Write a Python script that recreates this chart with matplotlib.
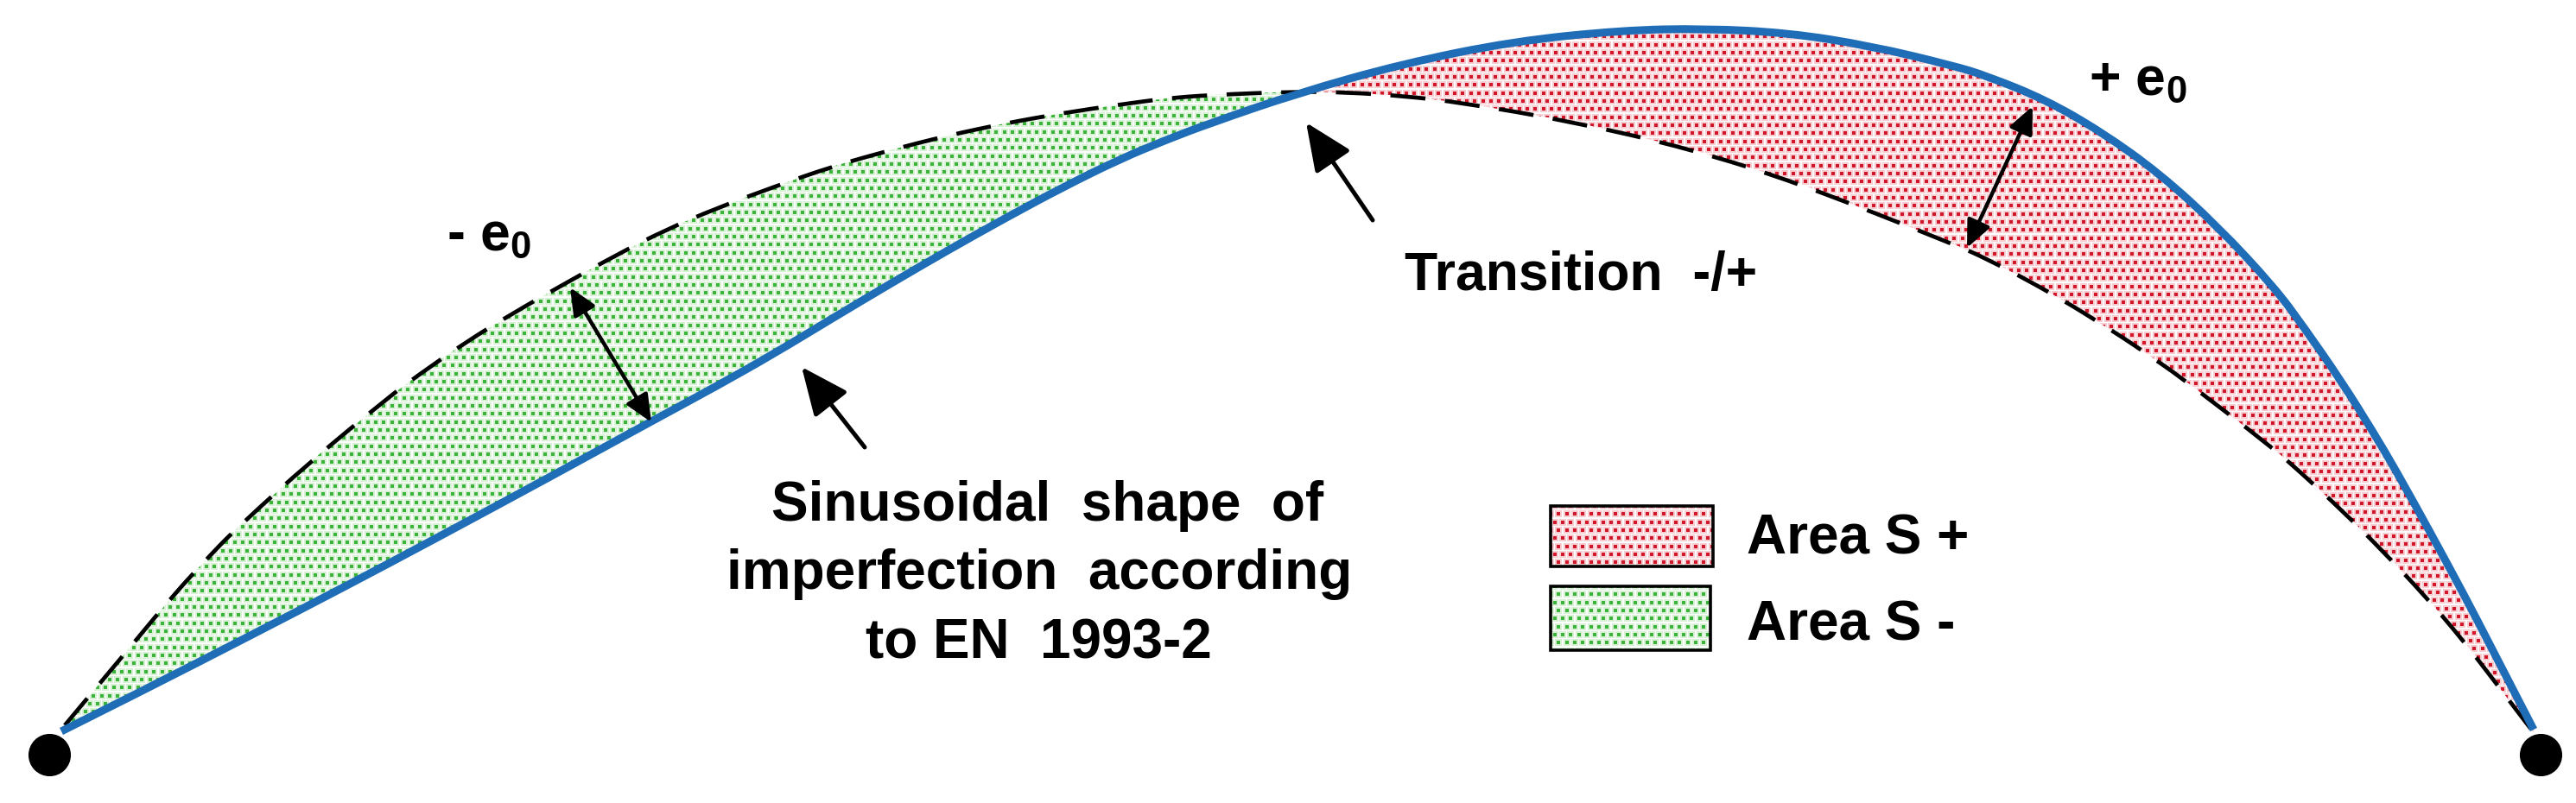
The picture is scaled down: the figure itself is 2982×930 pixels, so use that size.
import matplotlib
matplotlib.use("Agg")
import matplotlib.pyplot as plt
import numpy as np
from matplotlib.patches import FancyArrowPatch, PathPatch, Polygon, Rectangle
from matplotlib.path import Path

plt.rcParams["font.family"] = ["Liberation Sans", "DejaVu Sans"]
plt.rcParams["mathtext.fontset"] = "custom"
plt.rcParams["mathtext.rm"] = "Liberation Sans"
plt.rcParams["mathtext.bf"] = "Liberation Sans:bold"

# curves, in pixels of the original image
blue_x = [71, 167, 290, 400, 500, 641, 754, 830, 897, 963, 1030, 1097, 1163, 1230, 1297, 1350, 1400,
          1502, 1623, 1751, 1878, 1974, 2070, 2165, 2261, 2300, 2367, 2433, 2500, 2567, 2633, 2667,
          2710, 2747, 2773, 2813, 2853, 2883, 2933]
blue_y = [847, 799, 736, 679, 626, 550, 488, 447, 409, 369, 329, 290, 253, 217, 184, 162, 143,
          108, 74, 48, 35, 33, 38, 53, 76, 88, 115, 153, 201, 262, 333, 379,
          441, 500, 544, 616, 690, 748, 845]

dash_x = [75, 115, 157, 200, 247, 277, 360, 450, 482, 538, 595, 653, 714, 771,
          830, 897, 963, 1030, 1097, 1163, 1230, 1297, 1350, 1400, 1502, 1559, 1623, 1693, 1821,
          1955, 2082, 2267, 2300, 2350, 2390, 2410, 2448, 2468, 2503, 2527, 2630, 2662, 2712,
          2760, 2807, 2850, 2890, 2915, 2935]
dash_y = [840, 792, 742, 690, 639, 609, 534, 460, 436, 397, 362, 329, 295, 266,
          241, 216, 193, 174, 157, 143, 131, 121, 114, 110, 106, 107, 111, 119, 141,
          172, 212, 285, 300, 326, 349, 361, 385, 398, 422, 439, 518, 546, 592,
          640, 690, 740, 792, 825, 851]

blue_x = np.array(blue_x)
blue_y = np.array(blue_y)
dash_x = np.array(dash_x)
dash_y = np.array(dash_y)
cross_x = 1502

# support points and arrows: (tail x, tail y, tip x, tip y)
support_x = [57, 2941]
support_y = [874, 874]
pointer_arrows = [(1589, 255, 1512, 142), (1001, 518, 928, 425)]
double_arrows = [(660, 333, 754, 489), (2277, 287, 2353, 123)]

RED_DOT, RED_PALE = "#d0182a", "#f7cdd2"
GREEN_DOT, GREEN_PALE = "#3cb43c", "#d8f0d4"
BLUE = "#1f6db7"

fig = plt.figure(figsize=(29.82, 9.3), dpi=100)
ax = fig.add_axes([0, 0, 1, 1])
ax.set_xlim(0, 2982)
ax.set_ylim(930, 0)
ax.axis("off")


def smooth_path(x, y):
    # read points as quadratic control points, so the line has no corners
    pts = np.c_[x, y]
    mids = (pts[1:-2] + pts[2:-1]) / 2
    verts = [pts[0]]
    codes = [Path.MOVETO]
    for ctrl, end in zip(pts[1:-2], mids):
        verts += [ctrl, end]
        codes += [Path.CURVE3, Path.CURVE3]
    verts += [pts[-2], pts[-1]]
    codes += [Path.CURVE3, Path.CURVE3]
    return Path(verts, codes)


def dot_fill(verts, dot, pale):
    # dotted pattern fill, clipped to the outline
    outline = Polygon(verts, closed=True, facecolor="none", edgecolor="none")
    ax.add_patch(outline)
    verts = np.asarray(verts)
    pitch = 9.33
    ys = np.arange(verts[:, 1].min() - pitch, verts[:, 1].max() + pitch, pitch)
    xs = np.arange(verts[:, 0].min() - pitch, verts[:, 0].max() + pitch, pitch)
    gx, gy = np.meshgrid(xs, ys)
    gx[1::2] += pitch / 2
    for color, size in ((pale, 26), (dot, 11)):
        pts = ax.scatter(gx.ravel(), gy.ravel(), s=size, marker="s", color=color, linewidths=0, zorder=1)
        pts.set_clip_path(outline)


left = dash_x <= cross_x
right = dash_x >= cross_x
blue_left = blue_x <= cross_x
blue_right = blue_x >= cross_x
dot_fill(np.r_[np.c_[dash_x[left], dash_y[left]], np.c_[blue_x[blue_left], blue_y[blue_left]][::-1]], GREEN_DOT, GREEN_PALE)
dot_fill(np.r_[np.c_[blue_x[blue_right], blue_y[blue_right]], np.c_[dash_x[right], dash_y[right]][::-1]], RED_DOT, RED_PALE)

ax.add_patch(PathPatch(smooth_path(dash_x, dash_y), facecolor="none", edgecolor="black", lw=3.4,
                       ls=(0, (8.6, 4.8)), capstyle="butt", zorder=2))
ax.add_patch(PathPatch(smooth_path(blue_x, blue_y), facecolor="none", edgecolor=BLUE, lw=6.5,
                       capstyle="butt", zorder=3))
ax.scatter(support_x, support_y, s=1250, color="black", linewidths=0, zorder=4)

for x0, y0, x1, y1 in pointer_arrows:
    ax.add_patch(FancyArrowPatch((x0, y0), (x1, y1), arrowstyle="-|>,head_length=34,head_width=15",
                                 mutation_scale=1, lw=3.6, color="black", shrinkA=0, shrinkB=0, zorder=5))
for x0, y0, x1, y1 in double_arrows:
    ax.add_patch(FancyArrowPatch((x0, y0), (x1, y1), arrowstyle="<|-|>,head_length=19,head_width=8.5",
                                 mutation_scale=1, lw=3.2, color="black", shrinkA=0, shrinkB=0, zorder=5))

# legend boxes
for (x0, y0, x1, y1), dot, pale in (((1795, 586, 1983, 656), RED_DOT, RED_PALE),
                                    ((1795, 679, 1980, 753), GREEN_DOT, GREEN_PALE)):
    dot_fill([(x0, y0), (x1, y0), (x1, y1), (x0, y1)], dot, pale)
    ax.add_patch(Rectangle((x0, y0), x1 - x0, y1 - y0, facecolor="none", edgecolor="black", lw=2.6, zorder=4))

font = dict(fontweight="bold", color="black", va="baseline", zorder=6)
ax.text(1213, 603, "Sinusoidal  shape  of", ha="center", fontsize=46, **font)
ax.text(1203, 682, "imperfection  according", ha="center", fontsize=46, **font)
ax.text(1202, 762, "to EN  1993-2", ha="center", fontsize=46, **font)
ax.text(1626, 336, "Transition  -/+", ha="left", fontsize=45, **font)
ax.text(2022, 641, "Area S +", ha="left", fontsize=46, **font)
ax.text(2022, 741, "Area S -", ha="left", fontsize=46, **font)
ax.text(517, 290, r"- $\mathbf{e_0}$", ha="left", fontsize=45, **font)
ax.text(2418, 110, r"+ $\mathbf{e_0}$", ha="left", fontsize=45, **font)

plt.savefig("out.png", dpi=100)
